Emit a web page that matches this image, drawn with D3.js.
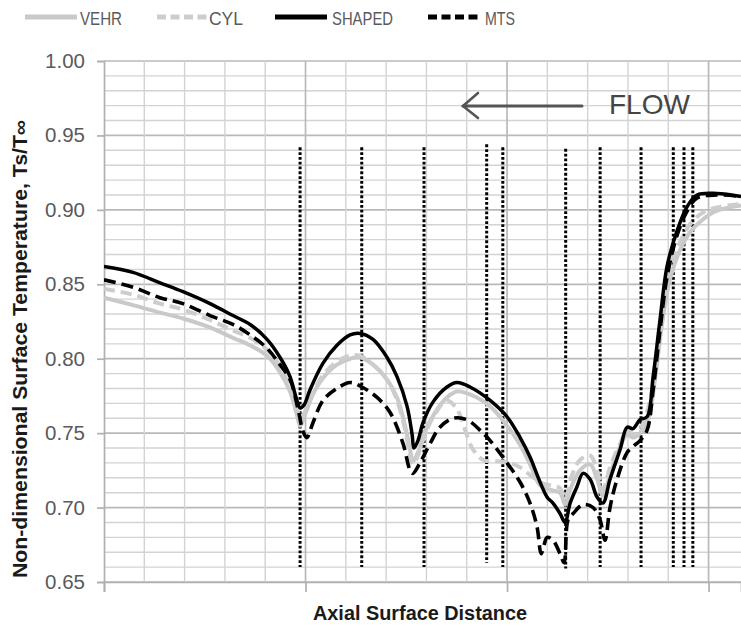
<!DOCTYPE html>
<html><head><meta charset="utf-8">
<script src="https://cdn.jsdelivr.net/npm/d3@7"></script>
<style>body{margin:0;background:#fff}svg{display:block;font-family:"Liberation Sans",Arial,sans-serif}</style>
</head><body><div id="chart"></div>
<script>
// ---- data ----
const seriesNames = ["VEHR", "CYL", "SHAPED", "MTS"];
const yTicks = [0.65, 0.70, 0.75, 0.80, 0.85, 0.90, 0.95, 1.00];
const xMajorTicks = [0, 1, 2, 3];
const markerX = [0.973, 1.279, 1.588, 1.899, 1.979, 2.291, 2.462, 2.665, 2.825, 2.878, 2.922];
const markerTop = [0.942, 0.942, 0.942, 0.944, 0.942, 0.941, 0.942, 0.942, 0.942, 0.942, 0.942];
const markerBottom = [0.660, 0.660, 0.660, 0.663, 0.660, 0.659, 0.660, 0.660, 0.660, 0.660, 0.660];

const vehr = [[0,0.841],[0.144,0.836],[0.278,0.831],[0.392,0.827],[0.526,0.821],[0.640,0.814],[0.725,0.809],[0.809,0.802],[0.873,0.791],[0.923,0.778],[0.958,0.762],[0.973,0.755],[1.002,0.764],[1.037,0.776],[1.087,0.787],[1.156,0.796],[1.221,0.800],[1.270,0.801],[1.335,0.796],[1.404,0.786],[1.454,0.774],[1.494,0.755],[1.519,0.739],[1.533,0.731],[1.558,0.737],[1.593,0.751],[1.643,0.764],[1.702,0.774],[1.752,0.778],[1.816,0.776],[1.916,0.768],[2.000,0.755],[2.065,0.742],[2.114,0.729],[2.164,0.715],[2.213,0.712],[2.263,0.710],[2.288,0.702],[2.313,0.712],[2.362,0.725],[2.412,0.729],[2.447,0.719],[2.476,0.708],[2.511,0.722],[2.561,0.741],[2.596,0.749],[2.625,0.747],[2.660,0.750],[2.700,0.759],[2.734,0.786],[2.769,0.823],[2.808,0.853],[2.858,0.873],[2.908,0.885],[2.958,0.892],[3.032,0.899],[3.161,0.903]];
const cyl = [[0,0.847],[0.144,0.843],[0.278,0.837],[0.392,0.833],[0.526,0.826],[0.640,0.819],[0.725,0.814],[0.809,0.806],[0.873,0.795],[0.923,0.780],[0.958,0.766],[0.978,0.760],[1.002,0.766],[1.037,0.777],[1.087,0.789],[1.156,0.798],[1.221,0.802],[1.270,0.802],[1.335,0.796],[1.404,0.786],[1.454,0.772],[1.494,0.752],[1.519,0.735],[1.533,0.729],[1.558,0.735],[1.593,0.749],[1.643,0.763],[1.702,0.772],[1.752,0.766],[1.792,0.752],[1.831,0.739],[1.881,0.732],[1.916,0.731],[1.965,0.731],[2.015,0.730],[2.065,0.727],[2.114,0.722],[2.164,0.717],[2.213,0.715],[2.263,0.713],[2.288,0.706],[2.323,0.722],[2.362,0.732],[2.412,0.735],[2.447,0.725],[2.476,0.712],[2.511,0.727],[2.561,0.743],[2.596,0.751],[2.640,0.749],[2.670,0.755],[2.710,0.772],[2.744,0.806],[2.779,0.839],[2.819,0.865],[2.868,0.881],[2.918,0.892],[2.983,0.899],[3.057,0.902],[3.161,0.904]];
const shaped = [[0,0.862],[0.144,0.858],[0.278,0.851],[0.392,0.845],[0.526,0.837],[0.640,0.829],[0.725,0.823],[0.809,0.813],[0.873,0.801],[0.923,0.788],[0.953,0.774],[0.973,0.767],[0.993,0.769],[1.022,0.779],[1.087,0.797],[1.156,0.809],[1.221,0.816],[1.270,0.817],[1.335,0.813],[1.404,0.801],[1.454,0.788],[1.504,0.768],[1.529,0.749],[1.538,0.740],[1.558,0.745],[1.583,0.757],[1.633,0.771],[1.702,0.781],[1.752,0.784],[1.816,0.781],[1.916,0.772],[2.000,0.761],[2.065,0.747],[2.114,0.734],[2.164,0.717],[2.199,0.707],[2.228,0.703],[2.263,0.696],[2.288,0.690],[2.313,0.703],[2.347,0.714],[2.377,0.723],[2.412,0.719],[2.447,0.707],[2.476,0.703],[2.511,0.719],[2.561,0.739],[2.596,0.754],[2.625,0.753],[2.660,0.759],[2.695,0.761],[2.725,0.788],[2.759,0.826],[2.794,0.862],[2.844,0.886],[2.893,0.902],[2.943,0.910],[3.042,0.911],[3.161,0.909]];
const mts = [[0,0.853],[0.144,0.848],[0.278,0.841],[0.392,0.837],[0.526,0.829],[0.640,0.823],[0.725,0.816],[0.809,0.807],[0.873,0.796],[0.923,0.786],[0.963,0.766],[0.988,0.751],[1.007,0.747],[1.037,0.757],[1.087,0.772],[1.156,0.780],[1.221,0.784],[1.280,0.781],[1.355,0.774],[1.419,0.764],[1.484,0.743],[1.519,0.725],[1.533,0.723],[1.568,0.730],[1.618,0.743],[1.667,0.754],[1.732,0.760],[1.801,0.759],[1.881,0.750],[1.916,0.745],[2.000,0.730],[2.065,0.717],[2.114,0.703],[2.149,0.687],[2.169,0.669],[2.184,0.675],[2.199,0.680],[2.228,0.678],[2.263,0.669],[2.283,0.663],[2.303,0.692],[2.328,0.696],[2.377,0.702],[2.427,0.700],[2.461,0.692],[2.486,0.678],[2.511,0.700],[2.546,0.719],[2.596,0.737],[2.625,0.741],[2.660,0.745],[2.695,0.752],[2.725,0.779],[2.759,0.819],[2.794,0.855],[2.844,0.883],[2.893,0.899],[2.943,0.908],[3.042,0.910],[3.161,0.909]];
const seriesData = [vehr, cyl, shaped, mts];
const seriesColor = ["#c9c9c9", "#cdcdcd", "#000000", "#000000"];
const seriesDash = [null, "11,6", null, "12,6"];
const seriesWidth = [4, 4, 3.5, 3.6];

// ---- layout ----
const W = 741, H = 632;
const m = {left: 104, top: 61, right: 741, bottom: 582};
const svg = d3.select("#chart").append("svg").attr("width", W).attr("height", H);
const x = d3.scaleLinear().domain([0, 3.161]).range([m.left, m.right]);
const y = d3.scaleLinear().domain([0.65, 1.0]).range([m.bottom, m.top]);

// gridlines
const g = svg.append("g");
const minorY = d3.range(65, 101).map(v => v / 100);
g.selectAll("line.hy").data(minorY).join("line")
  .attr("x1", m.left).attr("x2", m.right)
  .attr("y1", d => y(d)).attr("y2", d => y(d))
  .attr("stroke", d => Math.round(d*100) % 5 === 0 ? "#b9b9b9" : "#d3d3d3")
  .attr("stroke-width", d => Math.round(d*100) % 5 === 0 ? 1.7 : 1.4);
const minorX = d3.range(1, 16).map(v => v / 5);
g.selectAll("line.vx").data(minorX).join("line")
  .attr("y1", m.top).attr("y2", m.bottom)
  .attr("x1", d => x(d)).attr("x2", d => x(d))
  .attr("stroke", d => Math.abs(d - Math.round(d)) < 1e-6 ? "#b9b9b9" : "#d3d3d3")
  .attr("stroke-width", d => Math.abs(d - Math.round(d)) < 1e-6 ? 1.7 : 1.4);

// axes
const yAxis = d3.axisLeft(y).tickValues(yTicks).tickFormat(d3.format(".2f")).tickSize(7).tickPadding(12);
const ya = svg.append("g").attr("transform", `translate(${m.left},0)`).call(yAxis);
ya.select(".domain").attr("stroke", "#b0b0b0").attr("stroke-width", 1.7);
ya.selectAll(".tick line").attr("stroke", "#b0b0b0").attr("stroke-width", 1.7);
ya.selectAll(".tick text").attr("fill", "#5a5a5a").style("font-size", "20.5px").style("font-family", "Liberation Sans, Arial, sans-serif");

const xAxis = d3.axisBottom(x).tickValues(xMajorTicks).tickFormat("").tickSize(10);
const xa = svg.append("g").attr("transform", `translate(0,${m.bottom})`).call(xAxis);
xa.select(".domain").attr("stroke", "#b0b0b0").attr("stroke-width", 1.7);
xa.selectAll(".tick line").attr("stroke", "#b0b0b0").attr("stroke-width", 1.7);

// dotted marker lines
svg.append("g").selectAll("line").data(markerX).join("line")
  .attr("x1", d => x(d)).attr("x2", d => x(d))
  .attr("y1", (d, i) => y(markerTop[i])).attr("y2", (d, i) => y(markerBottom[i]))
  .attr("stroke", "#000").attr("stroke-width", 3).attr("stroke-dasharray", "2.8,2");

// clip
svg.append("clipPath").attr("id", "clip").append("rect")
  .attr("x", m.left).attr("y", m.top - 5).attr("width", m.right - m.left).attr("height", m.bottom - m.top + 5);

const line = d3.line().x(d => x(d[0])).y(d => y(d[1])).curve(d3.curveCatmullRom.alpha(0.5));
const lg = svg.append("g").attr("clip-path", "url(#clip)");
seriesData.forEach((s, i) => {
  lg.append("path").datum(s).attr("d", line)
    .attr("fill", "none").attr("stroke", seriesColor[i]).attr("stroke-width", seriesWidth[i])
    .attr("stroke-dasharray", seriesDash[i]).attr("stroke-linejoin", "round");
});

// legend
const legX = [25, 157, 275, 428];
const legTextX = [80, 209, 332, 485];
const legTextLen = [42, 34, 61, 30];
const leg = svg.append("g");
seriesNames.forEach((n, i) => {
  leg.append("line").attr("x1", legX[i]).attr("x2", legX[i] + 52).attr("y1", 17).attr("y2", 17)
    .attr("stroke", seriesColor[i]).attr("stroke-width", 5)
    .attr("stroke-dasharray", seriesDash[i] ? "9,4.5" : null);
  leg.append("text").attr("x", legTextX[i]).attr("y", 25).text(n)
    .attr("textLength", legTextLen[i]).attr("lengthAdjust", "spacingAndGlyphs")
    .attr("fill", "#5a5a5a").style("font-size", "19px");
});

// flow arrow
const fa = svg.append("g").attr("stroke", "#555").attr("stroke-width", 3).attr("fill", "none").attr("stroke-linecap", "round");
fa.append("line").attr("x1", 463).attr("x2", 582).attr("y1", 106).attr("y2", 106);
fa.append("polyline").attr("points", "478,93 463,106 478,118").attr("stroke-width", 2.6);
svg.append("text").attr("x", 609).attr("y", 114).text("FLOW").attr("fill", "#444").style("font-size", "28px");

// axis titles
svg.append("text").attr("x", 420).attr("y", 620).attr("text-anchor", "middle")
  .text("Axial Surface Distance").style("font-weight", "bold").style("font-size", "20px").attr("fill", "#1a1a1a")
  .attr("textLength", 214).attr("lengthAdjust", "spacingAndGlyphs");
svg.append("text").attr("transform", "translate(27,349) rotate(-90)").attr("text-anchor", "middle")
  .text("Non-dimensional Surface Temperature, Ts/T\u221E").style("font-weight", "bold").style("font-size", "19.5px").attr("fill", "#1a1a1a")
  .attr("textLength", 458).attr("lengthAdjust", "spacingAndGlyphs");
</script></body></html>
